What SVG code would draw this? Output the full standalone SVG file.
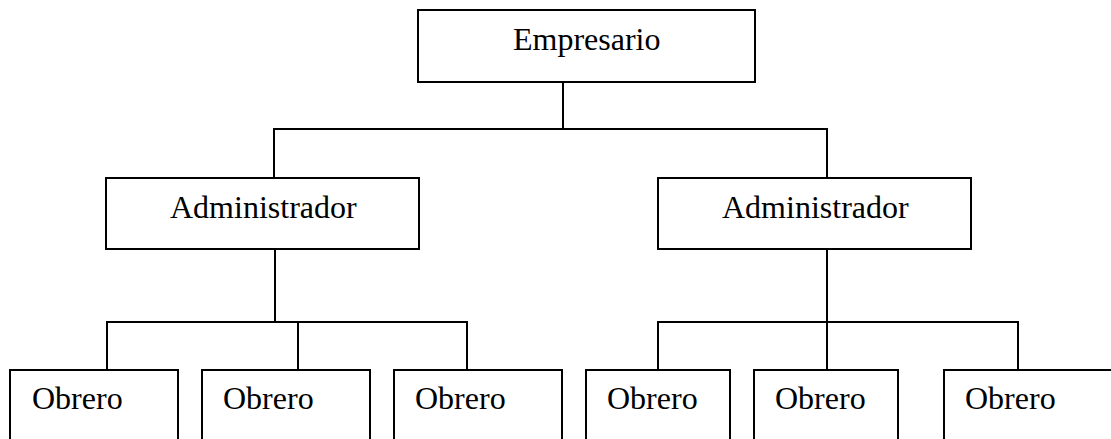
<svg xmlns="http://www.w3.org/2000/svg" width="1111" height="439" viewBox="0 0 1111 439">
  <style>
    .box { fill: #ffffff; stroke: #000000; stroke-width: 2; }
    .wire { fill: none; stroke: #000000; stroke-width: 2; }
    .label { font-family: "Liberation Serif", "Times New Roman", serif; font-size: 32px; fill: #000000; }
  </style>
  <rect width="1111" height="439" fill="#ffffff"/>

  <!-- connectors -->
  <g id="connectors">
    <polyline class="wire" points="563,82 563,129"/>
    <polyline class="wire" points="274,178 274,129 827,129 827,178"/>
    <polyline class="wire" points="275,249 275,322"/>
    <polyline class="wire" points="107,370 107,322 467,322 467,370"/>
    <polyline class="wire" points="298,322 298,370"/>
    <polyline class="wire" points="827,249 827,370"/>
    <polyline class="wire" points="658,370 658,322 1018,322 1018,370"/>
  </g>

  <g id="empresario">
    <rect class="box" x="418" y="10" width="337" height="72"/>
    <text class="label" x="513" y="50">Empresario</text>
  </g>

  <g id="admin-left">
    <rect class="box" x="106" y="178" width="313" height="71"/>
    <text class="label" x="170" y="218">Administrador</text>
  </g>
  <g id="admin-right">
    <rect class="box" x="658" y="178" width="313" height="71"/>
    <text class="label" x="722" y="218">Administrador</text>
  </g>

  <g id="obrero-1">
    <rect class="box" x="10" y="370" width="168" height="80"/>
    <text class="label" x="32" y="409">Obrero</text>
  </g>
  <g id="obrero-2">
    <rect class="box" x="202" y="370" width="168" height="80"/>
    <text class="label" x="223" y="409">Obrero</text>
  </g>
  <g id="obrero-3">
    <rect class="box" x="394" y="370" width="168" height="80"/>
    <text class="label" x="415" y="409">Obrero</text>
  </g>
  <g id="obrero-4">
    <rect class="box" x="586" y="370" width="144" height="80"/>
    <text class="label" x="607" y="409">Obrero</text>
  </g>
  <g id="obrero-5">
    <rect class="box" x="754" y="370" width="144" height="80"/>
    <text class="label" x="775" y="409">Obrero</text>
  </g>
  <g id="obrero-6">
    <rect class="box" x="944" y="370" width="180" height="80"/>
    <text class="label" x="965" y="409">Obrero</text>
  </g>
</svg>
